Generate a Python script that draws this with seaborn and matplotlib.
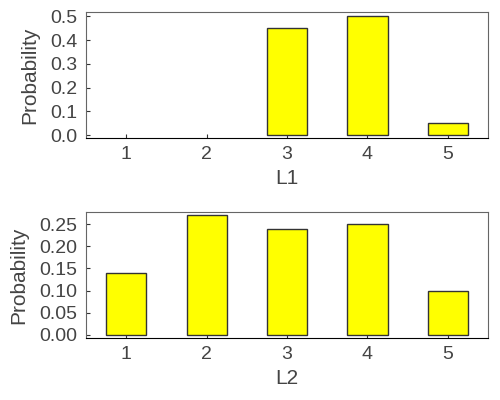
# Probability bar charts for L1 and L2

import pandas as pd
import numpy as np
import matplotlib
matplotlib.use("Agg")
import matplotlib.pyplot as plt
import seaborn as sns

levels = ["1", "2", "3", "4", "5"]
l1_prob = [0.0, 0.0, 0.45, 0.50, 0.05]
l2_prob = [0.14, 0.27, 0.24, 0.25, 0.10]

sns.set_style("white")
plt.rcParams['font.family'] = ['Liberation Sans', 'DejaVu Sans']

text_color = "#444444"

fig = plt.figure(figsize=(5, 4), dpi=100)
ax1 = fig.add_axes([0.172, 0.655, 0.804, 0.315])
ax2 = fig.add_axes([0.172, 0.155, 0.804, 0.315])

panels = [
    (ax1, l1_prob, "L1", (-0.0126, 0.518), [0.0, 0.1, 0.2, 0.3, 0.4, 0.5], "{:.1f}"),
    (ax2, l2_prob, "L2", (-0.0075, 0.2777), [0.0, 0.05, 0.10, 0.15, 0.20, 0.25], "{:.2f}"),
]

for ax, probs, name, ylim, yticks, fmt in panels:
    df = pd.DataFrame({"level": levels, "prob": probs})
    sns.barplot(data=df, x="level", y="prob", color="#ffff00", saturation=1,
                edgecolor="#333333", linewidth=1.0, width=0.5, ax=ax)
    # zero-height bars leave no visible mark
    for patch in ax.patches:
        if patch.get_height() == 0:
            patch.set_linewidth(0)
    ax.set_xlim(-0.5, 4.5)
    ax.set_ylim(*ylim)
    ax.set_yticks(yticks)
    ax.set_yticklabels([fmt.format(v) for v in yticks])
    ax.set_xlabel(name, fontsize=15, color=text_color, labelpad=4)
    ax.set_ylabel("Probability", fontsize=15, color=text_color, labelpad=8)
    ax.tick_params(axis="both", direction="in", length=3, width=0.8,
                   labelsize=14, labelcolor=text_color, pad=6,
                   bottom=True, left=True, color="#333333")
    for side in ["left", "top", "right"]:
        ax.spines[side].set_color("#666666")
        ax.spines[side].set_linewidth(0.8)
    ax.spines["bottom"].set_color("#000000")
    ax.spines["bottom"].set_linewidth(0.8)

fig.savefig("out.png", dpi=100)
